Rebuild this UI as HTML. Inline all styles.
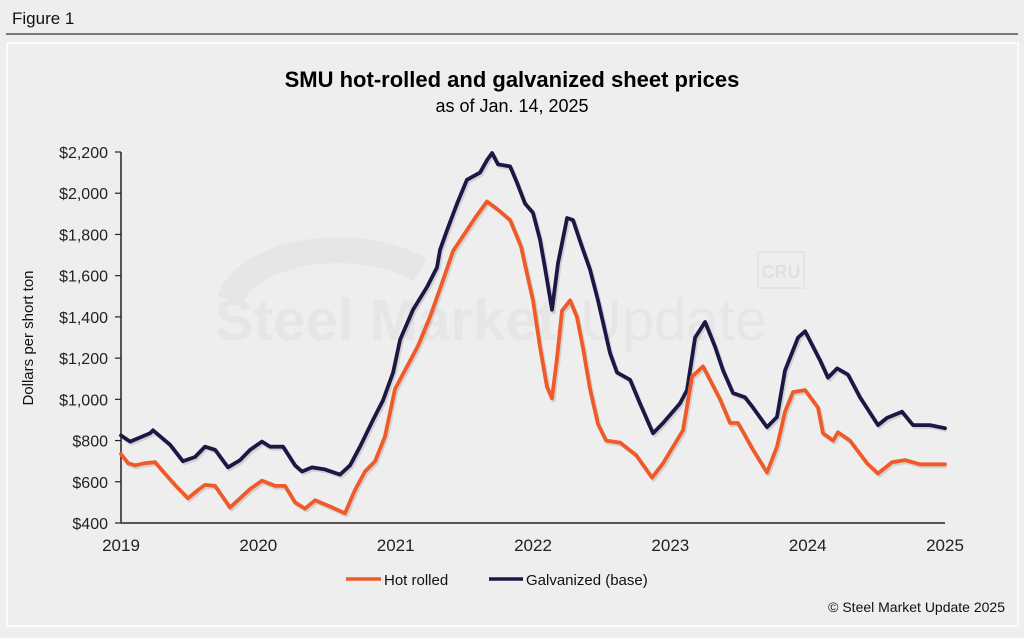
<!DOCTYPE html>
<html><head><meta charset="utf-8">
<style>
html,body{margin:0;padding:0;background:#eeeeee;}
body{width:1024px;height:633px;overflow:hidden;font-family:"Liberation Sans",sans-serif;}
</style></head>
<body>
<svg id="chart" width="1024" height="633" viewBox="0 0 1024 633" xmlns="http://www.w3.org/2000/svg" font-family="Liberation Sans, sans-serif">
  <rect x="0" y="0" width="1024" height="633" fill="#eeeeee"/>
  <text x="12" y="24" font-size="17" fill="#111">Figure 1</text>
  <line x1="6" y1="34" x2="1018" y2="34" stroke="#333" stroke-width="1.2"/>
  <rect x="7" y="43" width="1011" height="583" fill="#eeeeee" stroke="#ffffff" stroke-width="1.5"/>
  <g>
    <path d="M230 300 A110 60 0 0 1 420 270" fill="none" stroke="#e6e6e6" stroke-width="26"/>
    <text x="215" y="340" font-size="58" font-weight="bold" fill="#e6e6e6">Steel Market</text>
    <text x="580" y="340" font-size="58" fill="#e6e6e6">Update</text>
    <rect x="758" y="252" width="46" height="36" fill="none" stroke="#e4e4e4" stroke-width="2"/>
    <text x="781" y="278" font-size="18" font-weight="bold" fill="#e0e0e0" text-anchor="middle">CRU</text>
  </g>
  <text x="512" y="87" font-size="22" font-weight="bold" text-anchor="middle" fill="#000">SMU hot-rolled and galvanized sheet prices</text>
  <text x="512" y="112" font-size="18" text-anchor="middle" fill="#000">as of Jan. 14, 2025</text>
  <text transform="translate(33,338) rotate(-90)" font-size="15" text-anchor="middle" fill="#111">Dollars per short ton</text>
  <g id="yaxis"></g>
  <g id="xaxis"></g>
  <g id="series"></g>
  <g>
    <g>
      <line x1="346" y1="579" x2="381" y2="579" stroke="#f05a28" stroke-width="3.5"/>
      <text x="384" y="585" font-size="15" fill="#111">Hot rolled</text>
    </g>
    <g>
      <line x1="489" y1="579" x2="523" y2="579" stroke="#1c1845" stroke-width="3.5"/>
      <text x="526" y="585" font-size="15" fill="#111">Galvanized (base)</text>
    </g>
  </g>
  <text x="1005" y="612" font-size="14" text-anchor="end" fill="#111">© Steel Market Update 2025</text>
</svg>
<script>
const yTicks = [400,600,800,1000,1200,1400,1600,1800,2000,2200];
const yTickLabels = ["$400","$600","$800","$1,000","$1,200","$1,400","$1,600","$1,800","$2,000","$2,200"];
const xTicks = [2019,2020,2021,2022,2023,2024,2025];
const xTickLabels = ["2019","2020","2021","2022","2023","2024","2025"];
const hrDates = [2019,2019.051,2019.102,2019.175,2019.248,2019.32,2019.393,2019.488,2019.561,2019.612,2019.685,2019.794,2019.867,2019.94,2020.027,2020.122,2020.194,2020.267,2020.34,2020.413,2020.522,2020.631,2020.704,2020.777,2020.85,2020.922,2020.995,2021.083,2021.163,2021.25,2021.33,2021.418,2021.498,2021.578,2021.665,2021.745,2021.833,2021.913,2021.956,2022.0,2022.051,2022.102,2022.138,2022.175,2022.211,2022.27,2022.32,2022.364,2022.415,2022.473,2022.532,2022.634,2022.75,2022.867,2022.947,2023.092,2023.158,2023.238,2023.362,2023.435,2023.493,2023.602,2023.704,2023.777,2023.835,2023.893,2023.981,2024.075,2024.112,2024.185,2024.221,2024.308,2024.432,2024.512,2024.614,2024.709,2024.818,2025.0];
const hrValues = [735,690,680,690,695,640,585,520,560,585,580,475,520,565,605,580,580,500,470,510,480,447,560,650,700,820,1050,1160,1260,1400,1550,1720,1800,1880,1960,1920,1870,1740,1610,1480,1255,1060,1005,1200,1430,1480,1400,1250,1050,880,800,790,730,620,690,850,1110,1160,1000,885,885,755,645,770,940,1035,1045,960,835,800,840,800,690,640,695,705,685,685];
const galvDates = [2019,2019.066,2019.211,2019.233,2019.357,2019.451,2019.539,2019.612,2019.685,2019.779,2019.867,2019.94,2020.027,2020.085,2020.18,2020.267,2020.318,2020.391,2020.485,2020.595,2020.668,2020.74,2020.835,2020.908,2020.981,2021.032,2021.126,2021.228,2021.301,2021.323,2021.374,2021.447,2021.519,2021.614,2021.665,2021.702,2021.745,2021.833,2021.884,2021.942,2022.0,2022.051,2022.087,2022.138,2022.182,2022.248,2022.291,2022.357,2022.415,2022.473,2022.561,2022.612,2022.707,2022.779,2022.874,2022.947,2023.07,2023.121,2023.18,2023.253,2023.326,2023.384,2023.456,2023.544,2023.602,2023.704,2023.777,2023.835,2023.93,2023.981,2024.09,2024.148,2024.214,2024.294,2024.381,2024.512,2024.578,2024.687,2024.767,2024.891,2025.0];
const galvValues = [825,795,835,850,780,700,720,770,755,670,705,755,795,770,770,680,650,670,660,635,680,770,900,995,1130,1290,1435,1545,1640,1725,1820,1950,2065,2100,2160,2195,2140,2130,2050,1950,1905,1775,1640,1435,1660,1880,1870,1740,1630,1480,1225,1130,1095,980,835,885,980,1045,1300,1375,1255,1140,1030,1010,960,865,915,1140,1300,1330,1190,1105,1150,1120,1010,875,910,940,875,875,860];

const NS = "http://www.w3.org/2000/svg";
const X0 = 121, X1 = 945, Y0 = 523, Y1 = 152;
function xScale(t){ return X0 + (t - 2019) / 6 * (X1 - X0); }
function yScale(v){ return Y0 - (v - 400) / 1800 * (Y0 - Y1); }

const yaxis = document.getElementById('yaxis');
const axisLine = document.createElementNS(NS,'line');


axisLine.setAttribute('x1', X0); axisLine.setAttribute('x2', X0);
axisLine.setAttribute('y1', Y1); axisLine.setAttribute('y2', Y0);
axisLine.setAttribute('stroke', '#222'); axisLine.setAttribute('stroke-width', '1.5');
yaxis.appendChild(axisLine);
yTicks.forEach((v, i) => {
  const tk = document.createElementNS(NS,'line');
  
  
  tk.setAttribute('x1', X0 - 6); tk.setAttribute('x2', X0);
  tk.setAttribute('y1', yScale(v)); tk.setAttribute('y2', yScale(v));
  tk.setAttribute('stroke', '#222'); tk.setAttribute('stroke-width', '1.2');
  yaxis.appendChild(tk);
  const tx = document.createElementNS(NS,'text');
  
  
  tx.setAttribute('x', X0 - 13); tx.setAttribute('y', yScale(v) + 6);
  tx.setAttribute('text-anchor', 'end'); tx.setAttribute('font-size', '16'); tx.setAttribute('fill', '#222');
  tx.textContent = yTickLabels[i];
  yaxis.appendChild(tx);
});

const xaxis = document.getElementById('xaxis');
const xLine = document.createElementNS(NS,'line');


xLine.setAttribute('x1', X0); xLine.setAttribute('x2', X1);
xLine.setAttribute('y1', Y0); xLine.setAttribute('y2', Y0);
xLine.setAttribute('stroke', '#555'); xLine.setAttribute('stroke-width', '2');
xaxis.appendChild(xLine);
xTicks.forEach((t, i) => {
  const tx = document.createElementNS(NS,'text');
  
  
  tx.setAttribute('x', xScale(t)); tx.setAttribute('y', Y0 + 28);
  tx.setAttribute('text-anchor', 'middle'); tx.setAttribute('font-size', '17'); tx.setAttribute('fill', '#222');
  tx.textContent = xTickLabels[i];
  xaxis.appendChild(tx);
});

function drawLine(dates, vals, color, name){
  const d = dates.map((t, i) => (i ? 'L' : 'M') + xScale(t).toFixed(1) + ' ' + yScale(vals[i]).toFixed(1)).join(' ');
  const sh = document.createElementNS(NS,'path');
  
  
  sh.setAttribute('d', d); sh.setAttribute('fill', 'none');
  sh.setAttribute('stroke', 'rgba(0,0,0,0.12)'); sh.setAttribute('stroke-width', '4');
  sh.setAttribute('transform', 'translate(1.5,2)'); sh.setAttribute('stroke-linejoin', 'round');
  document.getElementById('series').appendChild(sh);
  const p = document.createElementNS(NS,'path');
  
  
  p.setAttribute('d', d); p.setAttribute('fill', 'none');
  p.setAttribute('stroke', color); p.setAttribute('stroke-width', '3.8');
  p.setAttribute('stroke-linejoin', 'round'); p.setAttribute('stroke-linecap', 'round');
  document.getElementById('series').appendChild(p);
}
drawLine(galvDates, galvValues, '#1c1845', 'galvanized-line');
drawLine(hrDates, hrValues, '#f05a28', 'hot-rolled-line');
</script>
</body></html>
